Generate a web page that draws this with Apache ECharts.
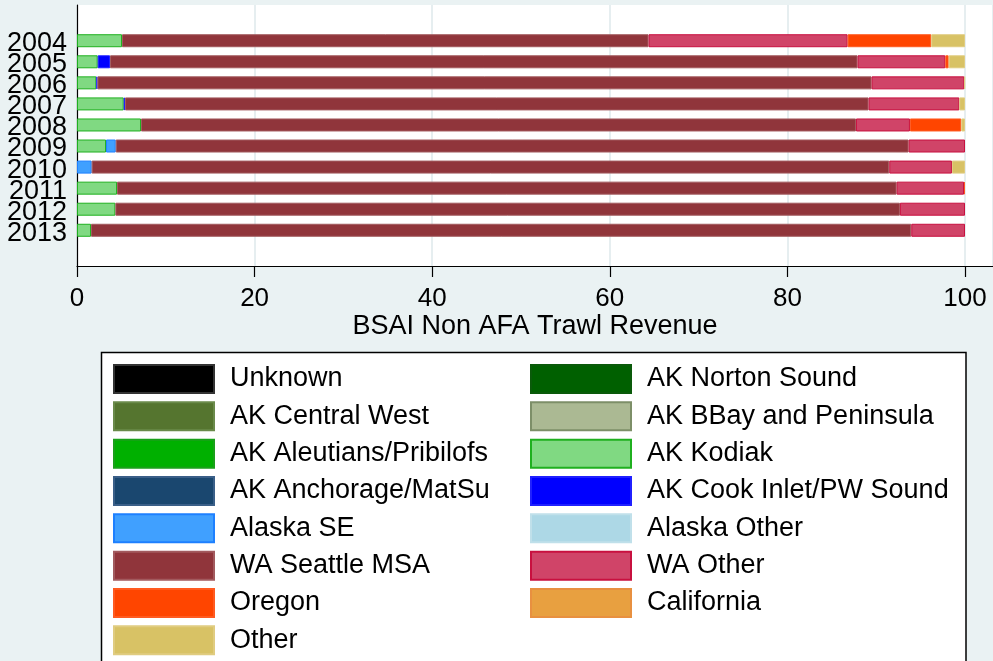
<!DOCTYPE html>
<html>
<head>
<meta charset="utf-8">
<script src="https://cdn.jsdelivr.net/npm/echarts@6/dist/echarts.min.js"></script>
<style>
html,body{margin:0;padding:0;background:#eaf2f3;}
#chart{width:993px;height:661px;}
</style>
</head>
<body>
<div id="chart"></div>
<script>
// ---- data ----
const years = ['2004','2005','2006','2007','2008','2009','2010','2011','2012','2013'];
const seriesNames = ['Unknown','AK Norton Sound','AK Central West','AK BBay and Peninsula',
  'AK Aleutians/Pribilofs','AK Kodiak','AK Anchorage/MatSu','AK Cook Inlet/PW Sound',
  'Alaska SE','Alaska Other','WA Seattle MSA','WA Other','Oregon','California','Other'];
const unknown      = [0,0,0,0,0,0,0,0,0,0];
const akNorton     = [0,0,0,0,0,0,0,0,0,0];
const akCentralW   = [0,0,0,0,0,0,0,0,0,0];
const akBBay       = [0,0,0,0,0,0,0,0,0,0];
const akAleutians  = [0,0,0,0,0,0,0,0,0,0];
const akKodiak     = [5.07,2.33,2.18,5.26,7.21,3.27,0,4.51,4.32,1.58];
const akAnchorage  = [0,0,0,0,0,0,0,0,0,0];
const akCookInlet  = [0,1.39,0.12,0.15,0,0,0,0,0,0];
const alaskaSE     = [0,0,0,0,0,1.09,1.65,0,0,0];
const alaskaOther  = [0,0,0,0,0,0,0,0,0,0];
const waSeattle    = [59.29,84.18,87.18,83.73,80.51,89.29,89.82,87.79,88.35,92.37];
const waOther      = [22.42,9.88,10.44,10.22,6.08,6.35,7.06,7.59,7.33,6.05];
const oregon       = [9.42,0.38,0,0,5.78,0,0,0.11,0,0];
const california   = [0,0,0,0,0,0,0,0,0,0];
const other        = [3.80,1.84,0.08,0.64,0.42,0,1.47,0,0,0];
const xTicks = [0,20,40,60,80,100];

const allData = [unknown,akNorton,akCentralW,akBBay,akAleutians,akKodiak,akAnchorage,
  akCookInlet,alaskaSE,alaskaOther,waSeattle,waOther,oregon,california,other];

// ---- styles ----
const fills = ['#000000','#006000','#55752f','#abb993','#00b000','#80d982','#1a476f',
  '#0000ff','#40a0ff','#add8e6','#90353b','#d04468','#ff4500','#e8a040','#d8c265'];
const borders = ['#333333','#0a5a0a','#6a8a4a','#7d8f68','#1aa01a','#1fb01f','#3a5f88',
  '#2020ff','#1e80ff','#c0e0ea','#a25a5e','#c8103f','#ff5a20','#e89040','#e0cc80'];

const xMax = 100 * (993 - 77) / (965 - 77);
const font = 'Liberation Sans, Arial, sans-serif';

const series = seriesNames.map((n, i) => ({
  name: n,
  type: 'bar',
  stack: 'total',
  xAxisIndex: 1,
  yAxisIndex: 1,
  barWidth: 13,
  data: allData[i].map(v => v === 0 ? '-' : v),
  itemStyle: { color: fills[i], borderColor: borders[i], borderWidth: 1 },
  emphasis: { disabled: true }
}));

const legendBase = {
  orient: 'vertical', top: 364, itemWidth: 100, itemHeight: 28, itemGap: 7.33,
  padding: 0, height: 320, width: 420,
  icon: 'rect', selectedMode: false,
  textStyle: { fontSize: 27, lineHeight: 28, color: '#000', fontFamily: font, padding: [0, 0, 0, 11] }
};

const chart = echarts.init(document.getElementById('chart'), null, { renderer: 'canvas' });
chart.setOption({
  backgroundColor: '#eaf2f3',
  animation: false,
  textStyle: { fontFamily: font },
  graphic: [{
    type: 'rect', z: -10,
    shape: { x: 101.5, y: 352.5, width: 864.5, height: 330 },
    style: { fill: '#ffffff', stroke: '#000000', lineWidth: 1.5 }
  }],
  grid: [
    { left: 77, right: 0, top: 5, bottom: 395, show: true, backgroundColor: '#ffffff', borderWidth: 0 },
    { left: 77, right: 0, top: 30.2, bottom: 420.2 }
  ],
  xAxis: [
    {
      gridIndex: 0, type: 'value', min: 0, max: xMax, interval: 20,
      axisLine: { show: true, onZero: false, lineStyle: { color: '#000', width: 1.2 } },
      axisTick: { show: true, length: 11, lineStyle: { color: '#000', width: 1.2 } },
      axisLabel: { show: true, fontSize: 26, color: '#000', margin: 20, fontFamily: font,
        showMaxLabel: false,
        formatter: v => (xTicks.indexOf(v) >= 0 ? String(v) : '') },
      splitLine: { show: true, lineStyle: { color: '#e6eef0', width: 2 } },
      name: 'BSAI Non AFA Trawl Revenue', nameLocation: 'middle', nameGap: 45,
      nameTextStyle: { fontSize: 27, color: '#000', fontFamily: font }
    },
    { gridIndex: 1, type: 'value', min: 0, max: xMax, show: false }
  ],
  yAxis: [
    { gridIndex: 0, type: 'value', min: 0, max: 1,
      axisLine: { show: true, lineStyle: { color: '#000', width: 1.2 } },
      axisTick: { show: false }, axisLabel: { show: false }, splitLine: { show: false } },
    { gridIndex: 1, type: 'category', data: years, inverse: true,
      axisLine: { show: false }, axisTick: { show: false },
      axisLabel: { interval: 0, fontSize: 27, color: '#000', margin: 10, fontFamily: font,
        formatter: v => '{y|' + v + '}',
        rich: { y: { fontSize: 27, color: '#000', fontFamily: font, padding: [6, 0, 0, 0] } } },
      splitLine: { show: false } }
  ],
  legend: [
    Object.assign({}, legendBase, { left: 113, data: seriesNames.filter((n, i) => i % 2 === 0) }),
    Object.assign({}, legendBase, { left: 530, data: seriesNames.filter((n, i) => i % 2 === 1) })
  ],
  series: series
});
</script>
</body>
</html>
